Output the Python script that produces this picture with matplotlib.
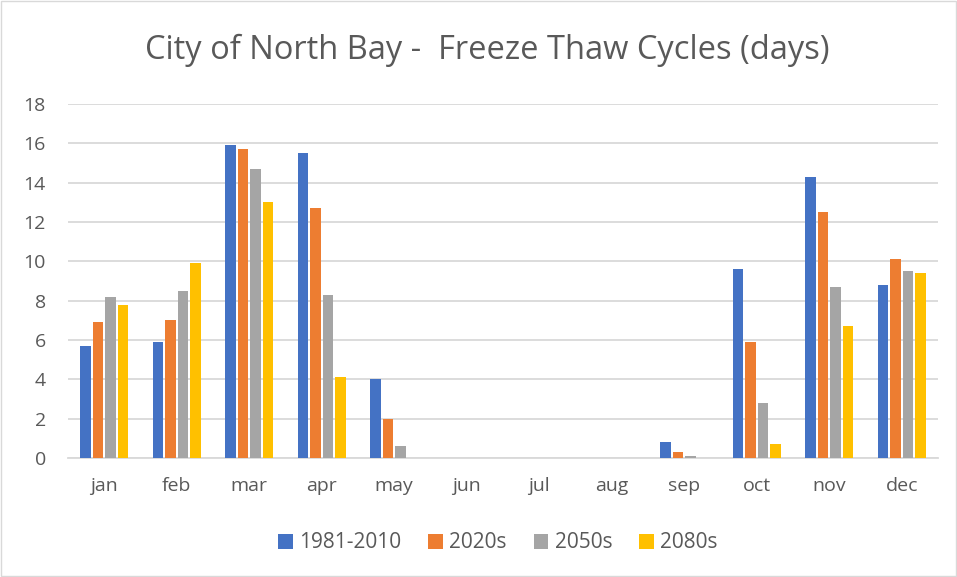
import numpy as np
import matplotlib.pyplot as plt

# Freeze thaw cycle days per month, City of North Bay
months = ['jan', 'feb', 'mar', 'apr', 'may', 'jun', 'jul', 'aug', 'sep', 'oct', 'nov', 'dec']
series_names = ['1981-2010', '2020s', '2050s', '2080s']
base_1981_2010 = [5.7, 5.9, 15.9, 15.5, 4.0, 0, 0, 0, 0.8, 9.6, 14.3, 8.8]
s_2020s = [6.9, 7.0, 15.7, 12.7, 2.0, 0, 0, 0, 0.3, 5.9, 12.5, 10.1]
s_2050s = [8.2, 8.5, 14.7, 8.3, 0.6, 0, 0, 0, 0.1, 2.8, 8.7, 9.5]
s_2080s = [7.8, 9.9, 13.0, 4.1, 0, 0, 0, 0, 0, 0.7, 6.7, 9.4]
colors = ['#4472c4', '#ed7d31', '#a5a5a5', '#ffc000']

plt.rcParams['font.family'] = ['Open Sans', 'DejaVu Sans']
text_col = '#595959'

fig = plt.figure(figsize=(9.57, 5.77), dpi=100)
ax = fig.add_axes([68 / 957, 1 - 458 / 577, 870 / 957, 354 / 577])

x = np.arange(len(months))
slot = 0.172
bw = 0.14
all_series = [base_1981_2010, s_2020s, s_2050s, s_2080s]
for i, (vals, name, c) in enumerate(zip(all_series, series_names, colors)):
    ax.bar(x + (i - 1.5) * slot, vals, bw, color=c, label=name, zorder=3)

ax.set_xlim(-0.5, len(months) - 0.5)
ax.set_ylim(0, 18)
ax.set_yticks(range(0, 19, 2))
ax.set_xticks(x)
ax.set_xticklabels(months)
ax.grid(axis='y', color='#d9d9d9', linewidth=1.3, zorder=0)
for s in ['top', 'right', 'left']:
    ax.spines[s].set_visible(False)
ax.spines['bottom'].set_color('#d9d9d9')
ax.spines['bottom'].set_linewidth(1.3)
ax.tick_params(length=0, labelsize=14, colors=text_col)
ax.tick_params(axis='x', pad=14)
ax.tick_params(axis='y', pad=16)

fig.text(487 / 957, 1 - 50 / 577, 'City of North Bay -  Freeze Thaw Cycles (days)',
         ha='center', va='center', fontsize=23.5, color=text_col)

leg = fig.legend(loc='center', bbox_to_anchor=(498 / 957, 1 - 543 / 577), ncol=4,
                 frameon=False, fontsize=15, handlelength=0.7, handleheight=0.7,
                 handletextpad=0.3, columnspacing=1.3)
for t in leg.get_texts():
    t.set_color(text_col)

# thin outer border like the chart frame
fig.patches.append(plt.Rectangle((0.001, 0.001), 0.998, 0.998, transform=fig.transFigure,
                                 fill=False, edgecolor='#d9d9d9', linewidth=1))

fig.savefig('out.png', dpi=100)
